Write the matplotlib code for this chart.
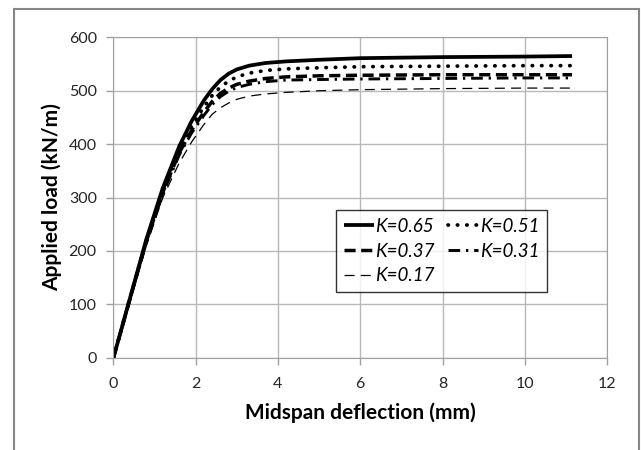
import matplotlib
matplotlib.use('Agg')
import matplotlib.pyplot as plt
from matplotlib.patches import Rectangle

# load-deflection curves, (mm, kN/m)
x_pts = [0, 0.4, 0.8, 1.2, 1.6, 1.9, 2.2, 2.4, 2.6, 2.8, 3.0, 3.3, 3.7, 4.2, 5.0, 6.0, 8.0, 10.0, 11.15]

y_065 = [0, 111, 222, 318, 396, 443, 482, 503, 520, 532, 540, 547, 552, 555, 558, 561, 563, 564, 565]
y_051 = [0, 111, 220, 314, 390, 434, 470, 491, 507, 518, 526, 533, 538, 541, 543, 545, 546, 547, 547]
y_037 = [0, 110, 218, 310, 384, 426, 460, 480, 495, 505, 512, 518, 523, 526, 528, 529, 530, 530, 530]
y_031 = [0, 109, 216, 307, 380, 421, 454, 474, 489, 499, 506, 512, 517, 520, 521, 522, 523, 524, 524]
y_017 = [0, 106, 210, 300, 365, 404, 437, 456, 468, 477, 484, 490, 494, 497, 500, 502, 504, 505, 505]

labels = ['K=0.65', 'K=0.51', 'K=0.37', 'K=0.31', 'K=0.17']

plt.rcParams['font.family'] = ['Lato', 'DejaVu Sans']

fig = plt.figure(figsize=(6.41, 4.5), dpi=100)
ax = fig.add_axes([0.177, 0.205, 0.770, 0.712])

# outer chart frame (runs off the bottom of the picture)
fig.patches.append(Rectangle((14/641, -0.1), (639-14)/641, 1.1 - 9/450,
                             transform=fig.transFigure, fill=False,
                             edgecolor='#868686', lw=1.5))

l1, = ax.plot(x_pts, y_065, color='black', lw=2.7, solid_capstyle='butt')
l2, = ax.plot(x_pts, y_051, color='black', lw=2.7, linestyle=(0, (0.1, 2.4)),
              dash_capstyle='round')
l3, = ax.plot(x_pts, y_037, color='black', lw=2.5, linestyle=(0, (3.2, 1.6)))
l4, = ax.plot(x_pts, y_031, color='black', lw=2.1,
              linestyle=(0, (4.0, 2.0, 0.8, 2.0)))
l5, = ax.plot(x_pts, y_017, color='black', lw=0.9, linestyle=(0, (8, 5)))

ax.set_xlim(0, 12)
ax.set_ylim(0, 600)
ax.set_xticks(range(0, 13, 2))
ax.set_yticks(range(0, 601, 100))
ax.grid(True, color='#b8b8b8', lw=1.0)
ax.set_axisbelow(True)
for side in ['top', 'right', 'left', 'bottom']:
    ax.spines[side].set_color('#a0a0a0')
ax.tick_params(axis='both', length=5, width=1, color='#a0a0a0',
               labelsize=11.5, labelcolor='#262626')
ax.tick_params(axis='x', pad=9)
ax.tick_params(axis='y', pad=7)

ax.set_xlabel('Midspan deflection (mm)', fontsize=15, fontweight='bold', labelpad=8)
ax.set_ylabel('Applied load (kN/m)', fontsize=15, fontweight='bold', labelpad=5)

leg = ax.legend([l1, l3, l5, l2, l4],
                [labels[0], labels[2], labels[4], labels[1], labels[3]],
                ncol=2, loc='upper left', bbox_to_anchor=(0.432, 0.49),
                frameon=True, fancybox=False, edgecolor='black',
                prop={'style': 'italic', 'size': 13.5},
                handlelength=1.6, handletextpad=0.1, columnspacing=0.7,
                labelspacing=0.42, borderpad=0.4)
leg.get_frame().set_linewidth(1.0)

fig.savefig('out.png', dpi=100)
